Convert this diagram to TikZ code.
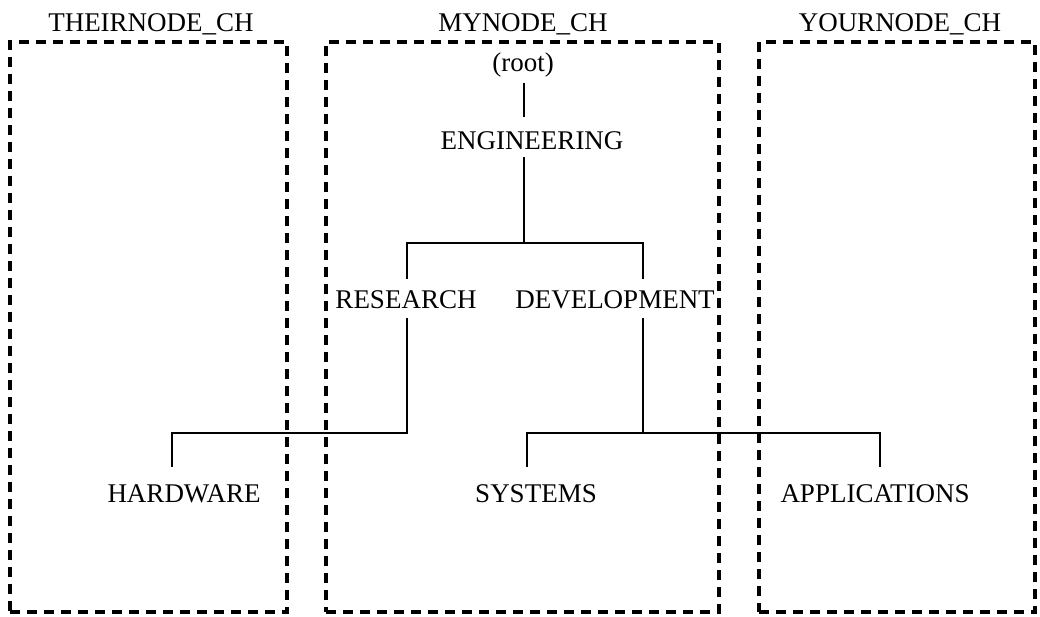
\documentclass[tikz,border=0pt]{standalone}
\usepackage{fontspec}
\setmainfont{Liberation Serif}
\begin{document}
\begin{tikzpicture}[x=1pt,y=-1pt,
  lbl/.style={font=\fontsize{27}{32}\selectfont, inner sep=0pt, anchor=base},
  chbox/.style={draw, line width=3.2pt, dash pattern=on 10pt off 7pt, inner sep=0pt},
  tree/.style={draw, line width=2.6pt}]
\useasboundingbox (0,0) rectangle (1040,617);
% channel boxes
\node[chbox, minimum width=277pt, minimum height=570pt] (theirbox) at (148.5,327) {};
\node[chbox, minimum width=393pt, minimum height=570pt] (mybox) at (522.5,327) {};
\node[chbox, minimum width=276pt, minimum height=570pt] (yourbox) at (897,327) {};
% box titles
\node[lbl] (their) at (151,32) {THEIRNODE\_CH};
\node[lbl] (my) at (523,32) {MYNODE\_CH};
\node[lbl] (your) at (900,32) {YOURNODE\_CH};
% tree nodes
\node[lbl] (root) at (523,72) {(root)};
\node[lbl] (eng) at (532,150) {ENGINEERING};
\node[lbl] (res) at (406,308) {RESEARCH};
\node[lbl] (dev) at (615,308) {DEVELOPMENT};
\node[lbl] (hw) at (184,502) {HARDWARE};
\node[lbl] (sys) at (536,502) {SYSTEMS};
\node[lbl] (app) at (875,502) {APPLICATIONS};
% connector end points
\coordinate (r1) at (524,83);
\coordinate (r2) at (524,117);
\coordinate (e1) at (524,157);
\coordinate (e2) at (524,243);
\coordinate (resT) at (407,279);
\coordinate (devT) at (643,279);
\coordinate (resB) at (407,318);
\coordinate (resJ) at (407,433);
\coordinate (hwT) at (172,467);
\coordinate (devB) at (643,318);
\coordinate (devJ) at (643,433);
\coordinate (sysT) at (527,467);
\coordinate (appT) at (880,467);
% connectors
\draw[tree] (r1) -- (r2);
\draw[tree] (e1) -- (e2);
\draw[tree] (resT) |- (e2) -| (devT);
\draw[tree] (resB) -- (resJ) -| (hwT);
\draw[tree] (devB) -- (devJ);
\draw[tree] (sysT) |- (devJ) -| (appT);
\end{tikzpicture}
\end{document}
